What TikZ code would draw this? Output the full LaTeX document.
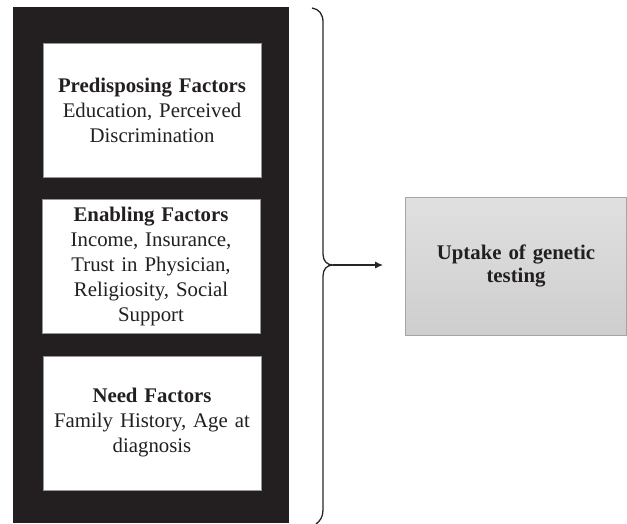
\documentclass[tikz,border=0pt]{standalone}
\usepackage{fontspec}
\setmainfont{Liberation Serif}
\usetikzlibrary{arrows.meta}
\definecolor{panelblack}{RGB}{35,31,32}
\definecolor{textblack}{RGB}{35,31,32}
\definecolor{boxedge}{RGB}{150,150,150}
\definecolor{graytop}{RGB}{224,224,224}
\definecolor{graybot}{RGB}{206,206,206}
\definecolor{grayedge}{RGB}{165,165,165}
\tikzset{
  factorbox/.style={draw=boxedge, line width=0.8pt, fill=white, minimum width=218pt, minimum height=134pt,
    inner sep=0pt, text width=214pt, align=center, text=textblack, font=\fontsize{20.8}{25}\selectfont},
  outcomebox/.style={draw=grayedge, line width=0.8pt, top color=graytop, bottom color=graybot,
    minimum width=221pt, minimum height=138pt, inner sep=0pt, text width=215pt, align=center, text=textblack,
    font=\bfseries\fontsize{20.8}{23}\selectfont},
  bracestyle/.style={line width=1.3pt, draw=black!85},
  arrowstyle/.style={line width=1.2pt, draw=black!85, -{Latex[length=8pt,width=7pt]}}
}
\begin{document}
\begin{tikzpicture}[x=1pt,y=-1pt]
\useasboundingbox (0,0) rectangle (627,523);
\node[fill=panelblack, minimum width=276pt, minimum height=516pt, inner sep=0pt, anchor=north west] (panel) at (13,7) {};
\node[factorbox] (pre) at (152,110) {\textbf{Predisposing Factors}\\Education, Perceived\\Discrimination};
\node[factorbox] (ena) at (151,266.5) {\textbf{Enabling Factors}\\Income, Insurance,\\Trust in Physician,\\Religiosity, Social\\Support};
\node[factorbox] (need) at (152,423) {\textbf{Need Factors}\\Family History, Age at\\diagnosis};
\node[outcomebox] (out) at (516,266) {Uptake of genetic\\testing};
\coordinate (tip) at (333,265);
\draw[bracestyle] (312,8) .. controls (319,9) and (323,14) .. (323,22) -- (323,254)
  .. controls (323,261) and (327,265) .. (tip)
  .. controls (327,265) and (323,269) .. (323,276) -- (323,510)
  .. controls (323,517) and (320,521) .. (316,524);
\draw[arrowstyle, shorten >=22pt] (tip) -- (out.west |- tip);
\end{tikzpicture}
\end{document}
